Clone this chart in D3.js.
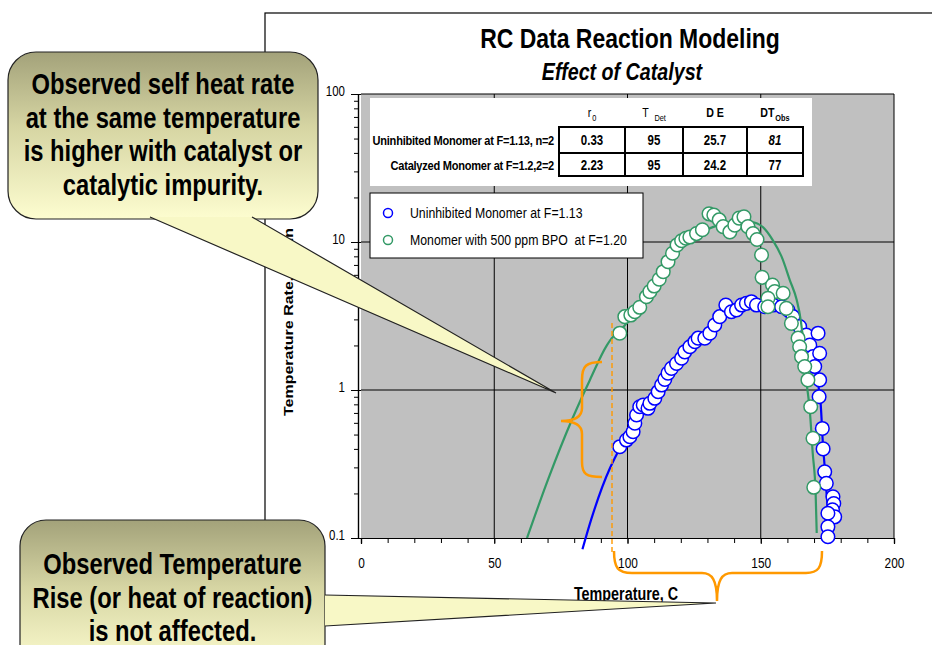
<!DOCTYPE html>
<html>
<head>
<meta charset="utf-8">
<script src="https://cdn.jsdelivr.net/npm/d3@7"></script>
<style>
  html, body { margin: 0; padding: 0; background: #ffffff; }
  svg { display: block; }
  text { font-family: "Liberation Sans", Arial, sans-serif; fill: #000; }
</style>
</head>
<body>
<svg id="chart" width="932" height="645"></svg>
<script>
// Uninhibited monomer at F=1.13: measured temperature (C) and self-heat rate (C/min)
const blueTemp = [97.1, 99.6, 100.9, 102.1, 102.75, 103.4, 104.6, 105.9, 107.7, 108.4, 110.25, 111.5,
  112.8, 114.0, 115.2, 116.5, 118.4, 120.3, 121.5, 123.4, 125.3, 126.5, 129.0, 130.9, 132.75, 134.6,
  136.9, 139.0, 140.9, 142.8, 144.6, 146.5, 148.4, 151.5, 154.6, 157.8, 160.2, 162.1, 164.6, 167.1,
  168.4, 169.6, 171.5, 172.1, 170.25, 172.1, 171.9, 173.1, 173.4, 174.0, 174.6, 177.1, 177.4, 176.9,
  177.75, 175.2, 175.2, 175.2];
const blueRate = [0.414, 0.459, 0.483, 0.522, 0.596, 0.678, 0.771, 0.792, 0.752, 0.813, 0.879, 0.974,
  1.08, 1.18, 1.30, 1.40, 1.51, 1.64, 1.81, 1.96, 2.12, 2.24, 2.24, 2.42, 2.75, 3.13,
  3.75, 3.38, 3.47, 3.75, 3.85, 3.95, 3.75, 3.65, 3.75, 3.65, 3.47, 3.13, 2.68, 2.35,
  2.01, 1.68, 2.42, 1.77, 1.44, 1.17, 0.90, 0.55, 0.40, 0.28, 0.234, 0.19, 0.171, 0.155,
  0.139, 0.147, 0.119, 0.102];

// Monomer with 500 ppm BPO at F=1.20
const greenTemp = [97.1, 99.0, 101.25, 102.75, 104.6, 107.1, 108.4, 110.0, 111.9, 113.4, 115.2, 116.9,
  118.6, 120.3, 121.9, 123.4, 125.9, 128.1, 130.6, 132.4, 134.4, 135.9, 138.4, 140.25, 141.9, 143.7,
  145.2, 147.1, 148.6, 150.3, 150.5, 154.4, 155.25, 152.7, 152.7, 158.4, 159.6, 161.5, 164.0, 164.6,
  165.3, 166.5, 167.7, 168.75, 169.6, 169.9];
const greenRate = [2.42, 3.13, 3.21, 3.38, 3.62, 4.27, 4.62, 5.04, 5.6, 6.3, 7.36, 8.39,
  9.55, 10.2, 10.6, 10.8, 11.4, 12.1, 15.5, 15.2, 14.1, 12.7, 11.7, 13.0, 14.5, 14.8,
  12.7, 11.4, 10.4, 8.17, 5.77, 5.12, 4.62, 4.17, 3.65, 4.5, 3.56, 2.82, 2.24, 1.96,
  1.68, 1.44, 1.17, 0.771, 0.472, 0.22];

// Model curves
const blueFitTemp = [83.1, 86.3, 93.4, 95.2, 97.4, 100, 104, 107, 110, 113, 116, 119, 122, 126, 130,
  134, 137, 141, 146, 151, 156, 160, 163, 166, 168.5, 170.3, 171.5, 172.5, 173.3, 174, 174.7, 175.3, 175.6];
const blueFitRate = [0.084, 0.132, 0.296, 0.346, 0.41, 0.48, 0.68, 0.76, 0.88, 1.08, 1.35, 1.55, 1.8, 2.15, 2.4,
  3.0, 3.5, 3.7, 3.85, 3.8, 3.65, 3.4, 3.0, 2.5, 2.0, 1.5, 1.1, 0.8, 0.44, 0.3, 0.2, 0.14, 0.1];
const greenFitTemp = [62.3, 70.1, 79.1, 85.9, 92.3, 94.1, 97.1, 104.6, 112.1, 118.9, 123, 127.1, 132,
  139.5, 146.6, 150.8, 154.5, 157.9, 160.9, 163.5, 165, 166.1, 167.1, 168.4, 169.5, 170.6, 171];
const greenFitRate = [0.1, 0.246, 0.627, 1.17, 2.01, 2.24, 2.5, 3.75, 5.98, 9.1, 10.5, 11.5, 12.6,
  13.6, 13.6, 12.6, 10.3, 7.9, 5.53, 4.05, 2.97, 2.01, 1.17, 0.73, 0.375, 0.2, 0.108];

// Axis ticks
const xMajor = [0, 50, 100, 150, 200];
const xMinor = d3.range(0, 201, 10);
const yMajor = [0.1, 1, 10, 100];
const yMinor = [0.2, 0.3, 0.4, 0.5, 0.6, 0.7, 0.8, 0.9, 2, 3, 4, 5, 6, 7, 8, 9, 20, 30, 40, 50, 60, 70, 80, 90];

// Kinetic parameter table
const tableHeaders = [["r", "0"], ["T", "Det"], ["D E", ""], ["DT", "Obs"]];
const tableRowLabels = ["Uninhibited Monomer at F=1.13, n=2", "Catalyzed Monomer at F=1.2,2=2"];
const tableValues = [["0.33", "95", "25.7", "81"], ["2.23", "95", "24.2", "77"]];

const legendLabels = ["Uninhibited Monomer at F=1.13", "Monomer with 500 ppm BPO  at F=1.20"];

const BLUE = "#0000ff", GREEN = "#339966", ORANGE = "#ff9900";
const SX = 0.82; // horizontal squeeze giving the narrow lettering

// Narrow a text element: move its x/y into a transform and compress it horizontally
function squeeze(sel) {
  sel.each(function () {
    const t = d3.select(this);
    const x0 = +t.attr("x") || 0, y0 = +t.attr("y") || 0;
    t.attr("x", 0).attr("y", 0).attr("transform", `translate(${x0},${y0}) scale(${SX},1)`);
  });
  return sel;
}

const svg = d3.select("#chart");
const defs = svg.append("defs");
const grad = defs.append("linearGradient").attr("id", "calloutFill")
  .attr("x1", 0).attr("y1", 0).attr("x2", 0).attr("y2", 1);
grad.append("stop").attr("offset", "0%").attr("stop-color", "#a3a27a");
grad.append("stop").attr("offset", "45%").attr("stop-color", "#d6d5a3");
grad.append("stop").attr("offset", "100%").attr("stop-color", "#fdfdd0");

// Outer frame
svg.append("rect").attr("x", 265).attr("y", 13).attr("width", 720).attr("height", 700)
  .attr("fill", "none").attr("stroke", "#000").attr("stroke-width", 1.2);

const x = d3.scaleLinear().domain([0, 200]).range([361, 894]);
const y = d3.scaleLog().domain([0.1, 100]).range([538, 94]);

// Titles
squeeze(svg.append("text").attr("x", 630).attr("y", 48).attr("text-anchor", "middle")
  .style("font-size", "28px").style("font-weight", "bold").text("RC Data Reaction Modeling"));
squeeze(svg.append("text").attr("x", 622).attr("y", 80).attr("text-anchor", "middle")
  .style("font-size", "24px").style("font-weight", "bold").style("font-style", "italic").text("Effect of Catalyst"));

// Plot area
svg.append("rect").attr("x", x(0)).attr("y", y(100)).attr("width", x(200) - x(0)).attr("height", y(0.1) - y(100))
  .attr("fill", "#c0c0c0");

const grid = svg.append("g").attr("stroke", "#000").attr("stroke-width", 1);
grid.selectAll("line.gx").data(xMajor.filter(d => d > 0)).join("line").attr("class", "gx")
  .attr("x1", d => x(d)).attr("x2", d => x(d)).attr("y1", y(100)).attr("y2", y(0.1));
grid.selectAll("line.gy").data(yMajor.filter(d => d > 0.1)).join("line").attr("class", "gy")
  .attr("x1", x(0)).attr("x2", x(200)).attr("y1", d => y(d)).attr("y2", d => y(d));

// X axis
const xAxisMinor = d3.axisBottom(x).tickValues(xMinor).tickSize(5).tickFormat("");
const xAxisMajor = d3.axisBottom(x).tickValues(xMajor).tickSize(6).tickPadding(13).tickFormat(d3.format("d"));
const gxm = svg.append("g").attr("transform", `translate(0,${y(0.1)})`).call(xAxisMinor);
const gxM = svg.append("g").attr("transform", `translate(0,${y(0.1)})`).call(xAxisMajor);
[gxm, gxM].forEach(g => {
  g.select(".domain").attr("stroke", "#000").attr("stroke-width", 1.2);
  g.selectAll(".tick line").attr("stroke", "#000");
});
gxM.selectAll(".tick text").style("font-size", "14.5px").style("font-family", null)
  .attr("dy", null).attr("y", 30);
squeeze(gxM.selectAll(".tick text"));

// Y axis
const yAxisMinor = d3.axisLeft(y).tickValues(yMinor).tickSize(4).tickFormat("");
const yAxisMajor = d3.axisLeft(y).tickValues(yMajor).tickSize(7).tickPadding(8).tickFormat(d => d < 1 ? "0.1" : String(d));
const gym = svg.append("g").attr("transform", `translate(${x(0) - 3},0)`).call(yAxisMinor);
const gyM = svg.append("g").attr("transform", `translate(${x(0) - 3},0)`).call(yAxisMajor);
[gym, gyM].forEach(g => {
  g.select(".domain").attr("stroke", "#000").attr("stroke-width", 1.2);
  g.selectAll(".tick line").attr("stroke", "#000");
});
gyM.selectAll(".tick line").attr("x2", 3).attr("x1", -7);
gyM.selectAll(".tick text").style("font-size", "14px").style("font-family", null)
  .attr("dy", null).attr("y", 1).attr("x", -13);
squeeze(gyM.selectAll(".tick text"));

// Axis titles
squeeze(svg.append("text").attr("x", 626).attr("y", 600).attr("text-anchor", "middle")
  .style("font-size", "17.5px").style("font-weight", "bold").text("Temperature, C"));
svg.append("text").attr("transform", `translate(293,416) scale(${SX},1) rotate(-90)`)
  .style("font-size", "16px").style("font-weight", "bold").text("Temperature Rate, C/min");

// Model lines and data
const line = d3.line().x(d => x(d[0])).y(d => y(d[1])).curve(d3.curveMonotoneX);
svg.append("path").datum(d3.zip(blueFitTemp, blueFitRate)).attr("d", line)
  .attr("fill", "none").attr("stroke", BLUE).attr("stroke-width", 2.2);
svg.append("g").selectAll("circle").data(d3.zip(blueTemp, blueRate)).join("circle")
  .attr("cx", d => x(d[0])).attr("cy", d => y(d[1])).attr("r", 6.8)
  .attr("fill", "#fff").attr("stroke", BLUE).attr("stroke-width", 1.5);
svg.append("path").datum(d3.zip(greenFitTemp, greenFitRate)).attr("d", line)
  .attr("fill", "none").attr("stroke", GREEN).attr("stroke-width", 2.2);
svg.append("g").selectAll("circle").data(d3.zip(greenTemp, greenRate)).join("circle")
  .attr("cx", d => x(d[0])).attr("cy", d => y(d[1])).attr("r", 6.8)
  .attr("fill", "#fff").attr("stroke", GREEN).attr("stroke-width", 1.5);

// Parameter table
const tbl = svg.append("g");
tbl.append("rect").attr("x", 370).attr("y", 98).attr("width", 442).attr("height", 88).attr("fill", "#fff");
const colX = [559, 625, 683, 747, 803];
const rowY = [127, 153, 176];
const hdr = tbl.selectAll("text.hdr").data(tableHeaders).join("text").attr("class", "hdr")
  .attr("x", (d, i) => (colX[i] + colX[i + 1]) / 2).attr("y", 117).attr("text-anchor", "middle")
  .style("font-size", "13px").style("font-weight", (d, i) => i < 2 ? "normal" : "bold");
hdr.append("tspan").text(d => d[0]);
hdr.append("tspan").attr("dx", d => d[1] === "Det" ? 7 : 1).attr("dy", 4).style("font-size", "9px").text(d => d[1]);
squeeze(hdr);
squeeze(tbl.selectAll("text.rl").data(tableRowLabels).join("text").attr("class", "rl")
  .attr("x", 554).attr("y", (d, i) => (rowY[i] + rowY[i + 1]) / 2 + 5).attr("text-anchor", "end")
  .style("font-size", "13.5px").style("font-weight", "bold").style("letter-spacing", "-0.3px").text(d => d));
tableValues.forEach((row, r) => {
  squeeze(tbl.selectAll(null).data(row).join("text")
    .attr("x", (d, i) => (colX[i] + colX[i + 1]) / 2).attr("y", (rowY[r] + rowY[r + 1]) / 2 + 5)
    .attr("text-anchor", "middle").style("font-size", "14px").style("font-weight", "bold")
    .style("font-style", (d, i) => (r === 0 && i === 3) ? "italic" : "normal").text(d => d));
});
tbl.append("rect").attr("x", colX[0]).attr("y", rowY[0]).attr("width", colX[4] - colX[0]).attr("height", rowY[2] - rowY[0])
  .attr("fill", "none").attr("stroke", "#000").attr("stroke-width", 2);
tbl.selectAll("line.cd").data(colX.slice(1, 4)).join("line").attr("class", "cd")
  .attr("x1", d => d).attr("x2", d => d).attr("y1", rowY[0]).attr("y2", rowY[2]).attr("stroke", "#000").attr("stroke-width", 2);
tbl.append("line").attr("x1", colX[0]).attr("x2", colX[4]).attr("y1", rowY[1]).attr("y2", rowY[1])
  .attr("stroke", "#000").attr("stroke-width", 2);

// Legend
const lg = svg.append("g");
lg.append("rect").attr("x", 370).attr("y", 193).attr("width", 273).attr("height", 65)
  .attr("fill", "#fff").attr("stroke", "#000").attr("stroke-width", 1);
lg.selectAll("circle").data([BLUE, GREEN]).join("circle")
  .attr("cx", 388).attr("cy", (d, i) => 213 + i * 27).attr("r", 4.5)
  .attr("fill", "#fff").attr("stroke", d => d).attr("stroke-width", 1.5);
squeeze(lg.selectAll("text").data(legendLabels).join("text")
  .attr("x", 410).attr("y", (d, i) => 218 + i * 27).style("font-size", "15px").style("white-space", "pre").text(d => d));

// Orange annotations
const ann = svg.append("g").attr("fill", "none").attr("stroke", ORANGE);
ann.append("line").attr("x1", 612).attr("x2", 612).attr("y1", 323).attr("y2", 553)
  .attr("stroke-width", 1.4).attr("stroke-dasharray", "5,3");
ann.append("path").attr("stroke-width", 2.5)
  .attr("d", "M602,362 C586,362 582,366 582,380 L582,408 C582,418 572,421 561,421 C572,421 582,424 582,434 L582,462 C582,474 586,477 602,477");
ann.append("path").attr("stroke-width", 2.5)
  .attr("d", "M614,551 C614,568 618,573 632,573 L702,573 C712,573 717,580 717,601 C717,580 722,573 732,573 L806,573 C818,573 822,568 822,551");

// Callouts
function callout(bx, by, bw, bh, rad, lines, ty, wedge) {
  const g = svg.append("g");
  g.append("rect").attr("x", bx).attr("y", by).attr("width", bw).attr("height", bh).attr("rx", rad)
    .attr("fill", "url(#calloutFill)").attr("stroke", "#222").attr("stroke-width", 1.2);
  g.append("path").attr("d", d3.line()(wedge)).attr("fill", "#f8f8c6").attr("stroke", "#222").attr("stroke-width", 1.2);
  squeeze(g.selectAll("text").data(lines).join("text")
    .attr("x", bx + bw / 2).attr("y", (d, i) => ty + i * 33.5).attr("text-anchor", "middle")
    .style("font-size", "29px").style("font-weight", "bold").text(d => d));
}
callout(8, 52, 310, 167, 28,
  ["Observed self heat rate", "at the same temperature", "is higher with catalyst or", "catalytic impurity."], 94,
  [[150, 217], [556, 393], [252, 217]]);
callout(20, 520, 305, 150, 26,
  ["Observed Temperature", "Rise (or heat of reaction)", "is not affected."], 574,
  [[325, 595], [716, 603], [325, 626]]);
</script>
</body>
</html>
